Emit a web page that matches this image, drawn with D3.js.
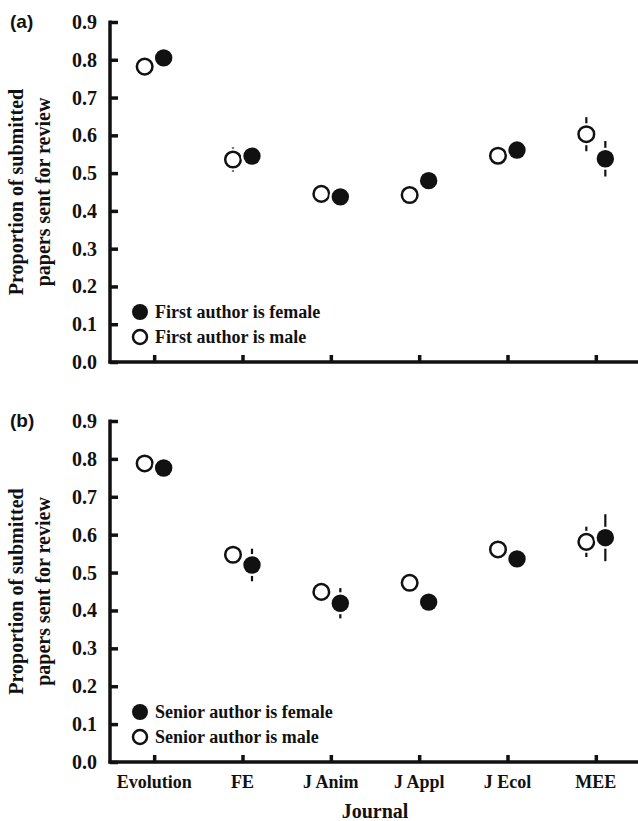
<!DOCTYPE html>
<html>
<head>
<meta charset="utf-8">
<script src="https://cdn.jsdelivr.net/npm/d3@7"></script>
<style>
  body { margin: 0; background: #fff; }
  text { font-family: "Liberation Serif", "Times New Roman", serif; font-weight: bold; fill: #111; }
  .axis path, .axis line { stroke: #111; }
</style>
</head>
<body>
<script>
var journals = ["Evolution", "FE", "J Anim", "J Appl", "J Ecol", "MEE"],
	yTicks = [0, 0.1, 0.2, 0.3, 0.4, 0.5, 0.6, 0.7, 0.8, 0.9];

// panel (a): first author
var firstFemale = [0.805, 0.545, 0.437, 0.480, 0.561, 0.538],
	firstFemaleErr = [0.012, 0.015, 0.012, 0.015, 0.012, 0.047],
	firstMale = [0.782, 0.536, 0.445, 0.442, 0.546, 0.603],
	firstMaleErr = [0.012, 0.032, 0.012, 0.015, 0.012, 0.045];

// panel (b): senior author
var seniorFemale = [0.776, 0.520, 0.419, 0.422, 0.536, 0.592],
	seniorFemaleErr = [0.015, 0.043, 0.040, 0.018, 0.015, 0.062],
	seniorMale = [0.788, 0.547, 0.449, 0.473, 0.561, 0.581],
	seniorMaleErr = [0.012, 0.018, 0.015, 0.018, 0.012, 0.040];

var width = 638, height = 821,
	left = 110, right = 640,
	offset = 9.5;

var svg = d3.select("body").append("svg")
	.attr("width", width)
	.attr("height", height);

var x = d3.scalePoint()
	.domain(journals)
	.range([left, right])
	.padding(0.5);

function panel(opts) {
	var y = d3.scaleLinear().domain([0, 0.9]).range([opts.bottom, opts.top]);
	var g = svg.append("g");

	// y axis, ticks pointing inward
	var yAxis = g.append("g")
		.attr("class", "axis")
		.attr("transform", "translate(" + left + ",0)")
		.call(d3.axisRight(y).tickValues(yTicks).tickSize(8).tickFormat(""));
	yAxis.select(".domain").attr("d", "M0," + (opts.bottom + 1.5) + "V" + (opts.top - 1.5)).attr("stroke-width", 3.5);
	yAxis.selectAll(".tick line").attr("stroke-width", 3.5);

	g.selectAll(".ylab")
		.data(yTicks)
		.enter().append("text")
		.attr("x", 97)
		.attr("y", function(d) { return y(d) + 7; })
		.style("text-anchor", "end")
		.style("font-size", "20px")
		.text(function(d) { return d.toFixed(1); });

	// x axis, ticks pointing up
	var xAxis = g.append("g")
		.attr("class", "axis")
		.attr("transform", "translate(0," + opts.bottom + ")")
		.call(d3.axisTop(x).tickSize(7).tickSizeOuter(0).tickFormat(""));
	xAxis.select(".domain").attr("d", "M" + (left - 1.5) + ",0H" + right).attr("stroke-width", 3.5);
	xAxis.selectAll(".tick line").attr("stroke-width", 3.5);

	if (opts.labels) {
		g.selectAll(".xlab")
			.data(journals)
			.enter().append("text")
			.attr("x", function(d) { return x(d); })
			.attr("y", opts.bottom + 26)
			.style("text-anchor", "middle")
			.style("font-size", "18px")
			.text(function(d) { return d; });
	}

	// panel letter
	g.append("text")
		.attr("x", 10)
		.attr("y", opts.top + 6)
		.style("font-family", "'Liberation Sans', Arial, sans-serif")
		.style("font-size", "19px")
		.text(opts.letter);

	// y title
	var cy = (opts.top + opts.bottom) / 2;
	var title = g.append("text")
		.attr("transform", "translate(0," + cy + ") rotate(-90)")
		.style("text-anchor", "middle")
		.style("font-size", "20px");
	title.append("tspan").attr("x", 0).attr("y", 23).text("Proportion of submitted");
	title.append("tspan").attr("x", 0).attr("y", 50).text("papers sent for review");

	var series = [
		{ vals: opts.male, err: opts.maleErr, dx: -offset, filled: false },
		{ vals: opts.female, err: opts.femaleErr, dx: offset, filled: true }
	];
	var pts = [];
	series.forEach(function(s) {
		s.vals.forEach(function(v, i) {
			pts.push({ j: journals[i], v: v, e: s.err[i], dx: s.dx, filled: s.filled });
		});
	});

	g.selectAll(".err")
		.data(pts)
		.enter().append("line")
		.attr("x1", function(d) { return x(d.j) + d.dx; })
		.attr("x2", function(d) { return x(d.j) + d.dx; })
		.attr("y1", function(d) { return y(d.v - d.e); })
		.attr("y2", function(d) { return y(d.v + d.e); })
		.attr("stroke", "#111")
		.attr("stroke-width", 2.2);

	var dots = g.selectAll(".pt")
		.data(pts)
		.enter().append("g")
		.attr("transform", function(d) { return "translate(" + (x(d.j) + d.dx) + "," + y(d.v) + ")"; });
	dots.append("circle").attr("r", 11).attr("fill", "#fff");
	dots.append("circle")
		.attr("r", function(d) { return d.filled ? 8.7 : 7.8; })
		.attr("fill", function(d) { return d.filled ? "#111" : "#fff"; })
		.attr("stroke", function(d) { return d.filled ? "none" : "#111"; })
		.attr("stroke-width", 2.5);

	// legend
	var leg = g.selectAll(".leg")
		.data([{ t: opts.legend[0], filled: true }, { t: opts.legend[1], filled: false }])
		.enter().append("g")
		.attr("transform", function(d, i) { return "translate(140," + (opts.bottom - 50 + i * 25) + ")"; });
	leg.append("circle")
		.attr("r", function(d) { return d.filled ? 8 : 7; })
		.attr("fill", function(d) { return d.filled ? "#111" : "#fff"; })
		.attr("stroke", function(d) { return d.filled ? "none" : "#111"; })
		.attr("stroke-width", 2.5);
	leg.append("text")
		.attr("x", 15)
		.attr("y", 6)
		.style("font-size", "18px")
		.text(function(d) { return d.t; });
}

panel({
	top: 22, bottom: 362, letter: "(a)", labels: false,
	female: firstFemale, femaleErr: firstFemaleErr,
	male: firstMale, maleErr: firstMaleErr,
	legend: ["First author is female", "First author is male"]
});

panel({
	top: 421, bottom: 762, letter: "(b)", labels: true,
	female: seniorFemale, femaleErr: seniorFemaleErr,
	male: seniorMale, maleErr: seniorMaleErr,
	legend: ["Senior author is female", "Senior author is male"]
});

svg.append("text")
	.attr("x", (left + right) / 2)
	.attr("y", 818)
	.style("text-anchor", "middle")
	.style("font-size", "20px")
	.text("Journal");
</script>
</body>
</html>
